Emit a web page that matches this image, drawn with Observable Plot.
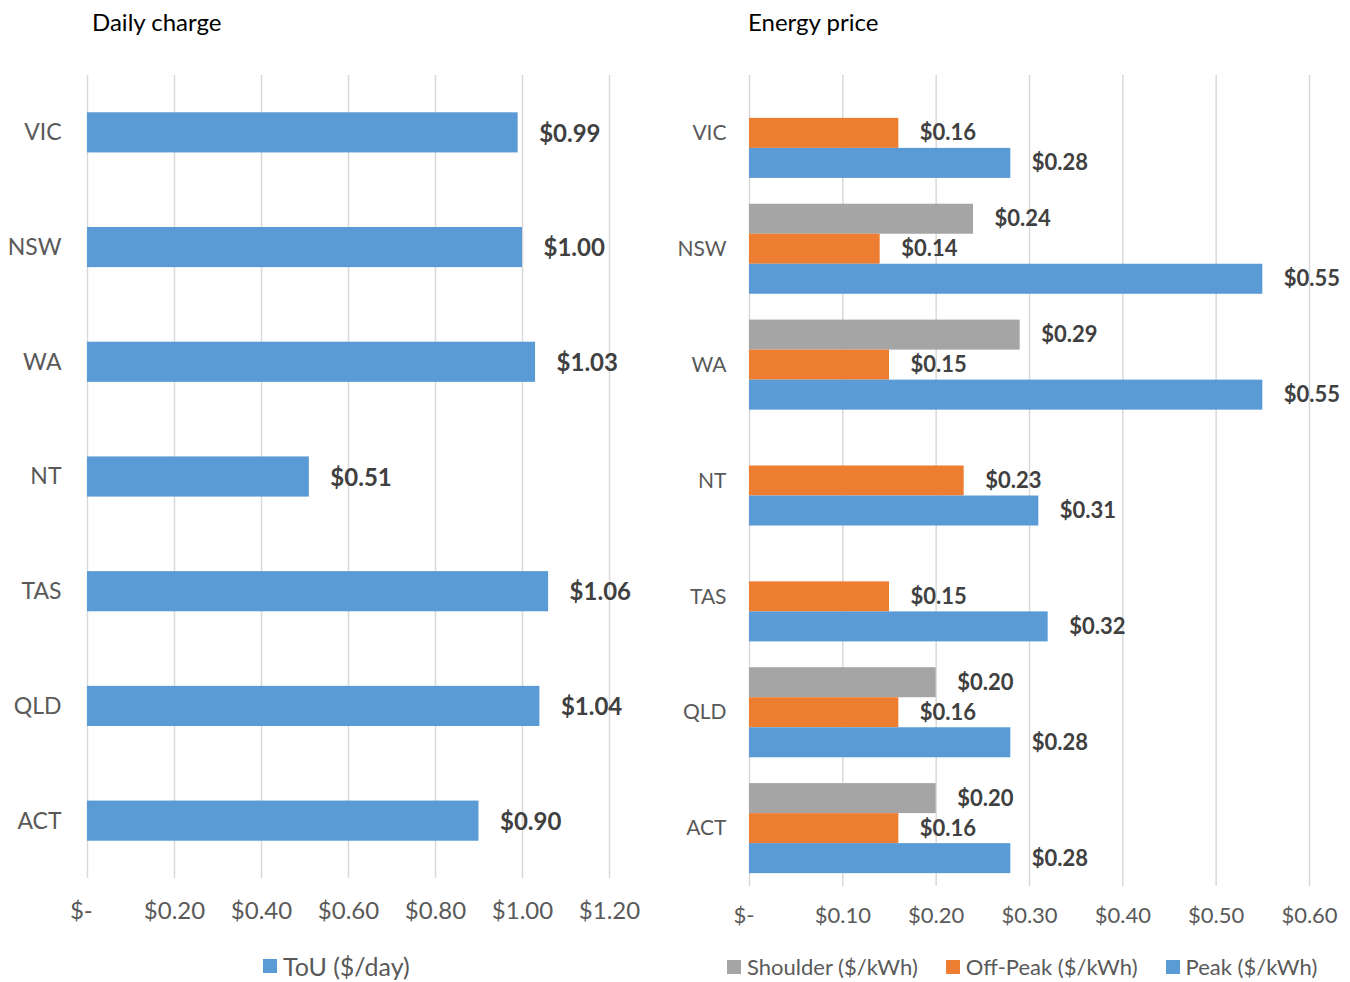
<!DOCTYPE html>
<html>
<head>
<meta charset="utf-8">
<script src="https://cdn.jsdelivr.net/npm/d3@7"></script>
<script src="https://cdn.jsdelivr.net/npm/@observablehq/plot@0.6"></script>
<style>
  html, body { margin: 0; padding: 0; background: #fff; }
  #page { position: relative; width: 1350px; height: 982px; font-family: Lato, "Open Sans", sans-serif; }
  .panel { position: absolute; top: 0; }
  .title { position: absolute; top: 7px; font-size: 24px; color: #000; white-space: nowrap; }
  .legend { position: absolute; font-size: 22px; color: #595959; display: flex; gap: 28px; white-space: nowrap; }
  .legend span.item { display: inline-flex; align-items: center; }
  .legend span.sw { display: inline-block; width: 14px; height: 14px; margin-right: 6px; }
</style>
</head>
<body>
<div id="page">
  <div class="title" style="left:92px">Daily charge</div>
  <div class="title" style="left:748px">Energy price</div>
  <div id="left" class="panel" style="left:0px"></div>
  <div id="right" class="panel" style="left:650px"></div>
  <div id="legLeft" class="legend" style="left:263px; top:951px; font-size:25px"></div>
  <div id="legRight" class="legend" style="left:727px; top:953px"></div>
</div>
<script>
// States, top to bottom
const states = ["VIC", "NSW", "WA", "NT", "TAS", "QLD", "ACT"];

// Daily supply charge, ToU tariff ($/day)
const dailyCharge = [0.99, 1.00, 1.03, 0.51, 1.06, 1.04, 0.90];

// Energy prices ($/kWh); null = no shoulder rate
const shoulder = [null, 0.24, 0.29, null, null, 0.20, 0.20];
const offPeak  = [0.16, 0.14, 0.15, 0.23, 0.15, 0.16, 0.16];
const peak     = [0.28, 0.55, 0.55, 0.31, 0.32, 0.28, 0.28];

// Axis ticks
const leftTicks  = [0, 0.2, 0.4, 0.6, 0.8, 1.0, 1.2];
const rightTicks = [0, 0.1, 0.2, 0.3, 0.4, 0.5, 0.6];

// Series names and colours
const seriesNames  = ["Shoulder ($/kWh)", "Off-Peak ($/kWh)", "Peak ($/kWh)"];
const seriesColors = ["#a5a5a5", "#ed7d31", "#5b9bd5"];
const touName  = "ToU ($/day)";
const touColor = "#5b9bd5";

const money = d => d === 0 ? "$-\u00a0\u00a0" : "$" + d.toFixed(2);

// ---------- Daily charge ----------
const dailyRows = states.map((s, i) => ({state: s, value: dailyCharge[i]}));
const leftPlot = Plot.plot({
  width: 650,
  height: 940,
  marginTop: 75,
  marginBottom: 62,
  marginLeft: 87,
  marginRight: 41,
  style: {fontFamily: "Lato, 'Open Sans', sans-serif", background: "transparent"},
  x: {domain: [0, 1.2], ticks: leftTicks, tickFormat: money},
  y: {domain: states, paddingInner: 0.65, paddingOuter: 0.325, round: false},
  marks: [
    Plot.gridX(leftTicks, {stroke: "#d9d9d9", strokeOpacity: 1, strokeWidth: 1.5}),
    Plot.axisX({ticks: leftTicks, tickFormat: money, tickSize: 0, tickPadding: 23, fontSize: 24, color: "#595959", label: null}),
    Plot.axisY({tickSize: 0, tickPadding: 26, fontSize: 23, color: "#595959", label: null}),
    Plot.barX(dailyRows, {x: "value", y: "state", fill: touColor}),
    Plot.text(dailyRows, {x: "value", y: "state", text: d => money(d.value), textAnchor: "start", dx: 21, dy: 1, fontSize: 24, fontWeight: "bold", fill: "#404040"})
  ]
});
document.getElementById("left").appendChild(leftPlot);

// ---------- Energy price ----------
const priceRows = [];
states.forEach((s, i) => {
  [shoulder[i], offPeak[i], peak[i]].forEach((v, k) => {
    if (v != null) priceRows.push({state: s, series: seriesNames[k], slot: k, value: v});
  });
});

const rTop = 75, rBottom = 886;
const pIn = 0.223, pOut = 0.111;
const step = (rBottom - rTop) / (states.length - pIn + 2 * pOut);
const third = step * (1 - pIn) / 3;

// each series takes one third of the state's band
const priceMarks = [0, 1, 2].flatMap(k => {
  const rows = priceRows.filter(d => d.slot === k);
  return [
    Plot.barX(rows, {x: "value", y: "state", fill: seriesColors[k],
      insetTop: k * third, insetBottom: (2 - k) * third}),
    Plot.text(rows, {x: "value", y: "state", text: d => money(d.value), textAnchor: "start",
      dx: 21, dy: (k - 1) * third, fontSize: 22, fontWeight: "bold", fill: "#404040"})
  ];
});

const rightPlot = Plot.plot({
  width: 700,
  height: 940,
  marginTop: rTop,
  marginBottom: 940 - rBottom,
  marginLeft: 99,
  marginRight: 41,
  style: {fontFamily: "Lato, 'Open Sans', sans-serif", background: "transparent"},
  x: {domain: [0, 0.6], ticks: rightTicks, tickFormat: money},
  y: {domain: states, paddingInner: pIn, paddingOuter: pOut, round: false},
  marks: [
    Plot.gridX(rightTicks, {stroke: "#d9d9d9", strokeOpacity: 1, strokeWidth: 1.5}),
    Plot.axisX({ticks: rightTicks, tickFormat: money, tickSize: 0, tickPadding: 21, fontSize: 22, color: "#595959", label: null}),
    Plot.axisY({tickSize: 0, tickPadding: 23, fontSize: 21, color: "#595959", label: null}),
    ...priceMarks
  ]
});
document.getElementById("right").appendChild(rightPlot);

// ---------- Legends ----------
function legend(el, names, colors) {
  names.forEach((n, i) => {
    const item = document.createElement("span");
    item.className = "item";
    const sw = document.createElement("span");
    sw.className = "sw";
    sw.style.background = colors[i];
    item.appendChild(sw);
    item.appendChild(document.createTextNode(n));
    el.appendChild(item);
  });
}
legend(document.getElementById("legLeft"), [touName], [touColor]);
legend(document.getElementById("legRight"), seriesNames, seriesColors);
</script>
</body>
</html>
